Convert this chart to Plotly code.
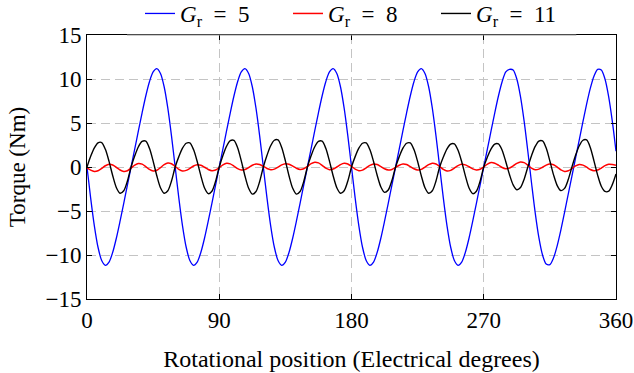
import numpy as np
import plotly.graph_objects as go

# Rotational position samples (electrical degrees)
position = np.linspace(0, 360, 145)

# Torque (Nm)
torque_gr5 = [
    0, -3.53, -6.68, -9.12, -10.63, -11.17, -10.80, -9.69, -8.07, -6.16, -4.12, -2.06,
    0, 2.06, 4.12, 6.16, 8.07, 9.69, 10.80, 11.17, 10.63, 9.12, 6.68, 3.53,
    0, -3.53, -6.68, -9.12, -10.63, -11.17, -10.80, -9.69, -8.07, -6.16, -4.12, -2.06,
    0, 2.06, 4.12, 6.16, 8.07, 9.69, 10.80, 11.17, 10.63, 9.12, 6.68, 3.53,
    0, -3.53, -6.68, -9.12, -10.63, -11.17, -10.80, -9.69, -8.07, -6.16, -4.12, -2.06,
    0, 2.06, 4.12, 6.16, 8.07, 9.69, 10.80, 11.17, 10.63, 9.12, 6.68, 3.53,
    0, -3.53, -6.68, -9.12, -10.63, -11.17, -10.80, -9.69, -8.07, -6.16, -4.12, -2.06,
    0, 2.06, 4.12, 6.16, 8.07, 9.69, 10.80, 11.17, 10.63, 9.12, 6.68, 3.53,
    0, -3.53, -6.68, -9.12, -10.63, -11.17, -10.80, -9.69, -8.07, -6.16, -4.12, -2.06,
    0, 2.06, 4.12, 6.16, 8.07, 9.69, 10.80,
    11.09, 11.02, 10.0, 8.00, 5.18, 1.79, -1.79, -5.18, -8.00, -10.0, -11.02, -11.09,
    -10.32, -8.93, -7.14, -5.15, -3.09, -1.03, 1.03, 3.09, 5.15, 7.14, 8.93, 10.32,
    11.09, 11.02, 10.0, 8.00, 5.18, 1.79,
]

torque_gr8 = [
    -0.10, -0.36, -0.50, -0.42, -0.16, 0.14, 0.30, 0.22,
    -0.04, -0.34, -0.50, -0.42, -0.12, 0.22, 0.40, 0.32,
    0.04, -0.28, -0.45, -0.37, -0.07, 0.27, 0.45, 0.37,
    0.07, -0.27, -0.45, -0.38, -0.16, 0.11, 0.25, 0.19,
    -0.03, -0.28, -0.42, -0.34, -0.07, 0.25, 0.42, 0.35,
    0.10, -0.19, -0.35, -0.28, -0.06, 0.20, 0.34, 0.28,
    0.07, -0.17, -0.30, -0.24, -0.01, 0.24, 0.38, 0.32,
    0.10, -0.14, -0.28, -0.20, 0.07, 0.38, 0.55, 0.47,
    0.19, -0.13, -0.30, -0.23, 0.00, 0.27, 0.42, 0.34,
    0.07, -0.25, -0.42, -0.35, -0.10, 0.18, 0.34, 0.28,
    0.05, -0.20, -0.34, -0.28, -0.05, 0.20, 0.34, 0.28,
    0.05, -0.20, -0.34, -0.27, -0.02, 0.26, 0.42, 0.34,
    0.05, -0.27, -0.45, -0.38, -0.13, 0.15, 0.30, 0.24,
    0.03, -0.21, -0.34, -0.26, 0.01, 0.33, 0.50, 0.43,
    0.21, -0.06, -0.20, -0.13, 0.13, 0.42, 0.58, 0.50,
    0.21, -0.12, -0.30, -0.24, -0.03, 0.21, 0.34, 0.26,
    -0.01, -0.33, -0.50, -0.43, -0.17, 0.12, 0.28, 0.21,
    -0.02, -0.28, -0.42, -0.35, -0.12, 0.15, 0.30, 0.28,
    0.20,
]

torque_gr11 = [
    0, 1.21, 2.18, 2.75, 2.78, 2.01, 0.64, -0.99, -2.35, -2.98, -2.70, -1.59,
    0, 1.27, 2.30, 2.90, 2.93, 2.12, 0.67, -0.99, -2.35, -2.98, -2.70, -1.59,
    0, 1.18, 2.14, 2.70, 2.73, 1.98, 0.62, -1.01, -2.39, -3.03, -2.75, -1.62,
    0, 1.31, 2.37, 2.99, 3.02, 2.19, 0.69, -1.02, -2.42, -3.08, -2.79, -1.65,
    0, 1.33, 2.41, 3.04, 3.07, 2.23, 0.70, -1.02, -2.42, -3.08, -2.79, -1.65,
    0, 1.27, 2.30, 2.90, 2.93, 2.12, 0.67, -0.99, -2.35, -2.98, -2.70, -1.59,
    0, 1.18, 2.14, 2.70, 2.73, 1.98, 0.62, -0.96, -2.27, -2.88, -2.61, -1.54,
    0, 1.18, 2.14, 2.70, 2.73, 1.98, 0.62, -0.99, -2.35, -2.98, -2.70, -1.59,
    0, 1.14, 2.07, 2.61, 2.63, 1.91, 0.60, -1.01, -2.39, -3.03, -2.75, -1.62,
    0, 1.14, 2.07, 2.61, 2.63, 1.91, 0.60, -0.86, -2.03, -2.58, -2.34, -1.38,
    0, 1.29, 2.34, 2.95, 2.97, 2.16, 0.68, -0.89, -2.11, -2.68, -2.43, -1.43,
    0, 1.33, 2.41, 3.04, 3.07, 2.23, 0.70, -0.92, -2.19, -2.78, -2.75, -2.00,
    -0.80,
]

x_ticks = [0, 90, 180, 270, 360]
y_ticks = [-15, -10, -5, 0, 5, 10, 15]

series = [
    ("<i>G</i><sub>r</sub>\u2002=\u20025", torque_gr5, "#0000ff", 1.3),
    ("<i>G</i><sub>r</sub>\u2002=\u20028", torque_gr8, "#ff0000", 1.5),
    ("<i>G</i><sub>r</sub>\u2002=\u200211", torque_gr11, "#000000", 1.4),
]

FONT = "Liberation Serif, DejaVu Serif, serif"

fig = go.Figure()
for name, vals, color, width in series:
    fig.add_trace(go.Scatter(
        x=position, y=vals, mode="lines", name=name,
        line=dict(color=color, width=width, shape="spline", smoothing=0.8),
    ))

axis_common = dict(
    showgrid=True, gridcolor="#c4c4c4", gridwidth=1, griddash="9px,5px",
    showline=True, linecolor="#000000", linewidth=1, mirror="ticks",
    ticks="inside", ticklen=5, tickcolor="#000000", tickwidth=1,
    zeroline=False, tickfont=dict(family=FONT, size=23, color="#000000"),
)

fig.update_xaxes(
    range=[0, 360], tickvals=x_ticks, ticktext=[str(v) for v in x_ticks],
    title=dict(text="Rotational position (Electrical degrees)",
               font=dict(family=FONT, size=24, color="#000000"), standoff=18),
    **axis_common,
)
fig.update_yaxes(
    range=[-15, 15], tickvals=y_ticks,
    title=dict(text="Torque (Nm)", font=dict(family=FONT, size=23, color="#000000"), standoff=13),
    **axis_common,
)

fig.add_shape(type="line", xref="paper", yref="paper", x0=0.0757, x1=0.925, y0=1, y1=1,
              line=dict(color="#9a9a9a", width=1), layer="above")

fig.update_layout(
    width=634, height=373,
    margin=dict(l=87, r=18, t=35, b=74, autoexpand=False),
    paper_bgcolor="#ffffff", plot_bgcolor="#ffffff",
    font=dict(family=FONT, size=23, color="#000000"),
    showlegend=True,
    legend=dict(orientation="h", x=0.1002, xanchor="left", y=1.0, yanchor="bottom",
                bgcolor="rgba(0,0,0,0)", font=dict(family=FONT, size=23),
                entrywidth=103, entrywidthmode="pixels", tracegroupgap=0),
)

fig.write_html(
    "out.html",
    config={"displayModeBar": False},
    post_script="document.body.style.margin='0';document.body.style.overflow='hidden';",
)
